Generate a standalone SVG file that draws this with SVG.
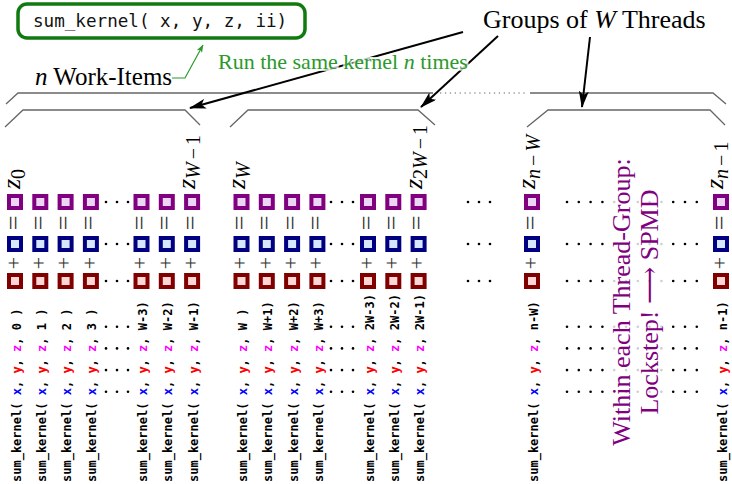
<svg xmlns="http://www.w3.org/2000/svg" xmlns:xlink="http://www.w3.org/1999/xlink" width="732" height="484" viewBox="0 0 732 484">
  <style>
    .sqP{fill:#ecd6f6;stroke:#800080;stroke-width:4}
    .sqB{fill:#d6e6ff;stroke:#000080;stroke-width:4}
    .sqR{fill:#ffd6d6;stroke:#800000;stroke-width:4}
    .op{font-family:"Liberation Serif","DejaVu Serif",serif;font-size:22px;fill:#333;text-anchor:middle}
    .eq{font-size:26px}
    .call{font-family:"DejaVu Sans Mono","Liberation Mono",monospace;font-size:12px;font-weight:bold;fill:#000}
    .vx{fill:#0000ff}.vy{fill:#ff0000}.vz{fill:#ff00ff}
    .zl{font-family:"Liberation Serif","DejaVu Serif",serif;font-size:26px;font-style:italic;fill:#000}
    .sub{font-size:20px}
    .up{font-style:normal}
    .it{font-style:italic}
    .dk{fill:#000}
    .lt{fill:#cfcfcf}
    .br{fill:none;stroke:#666;stroke-width:1.3}
    .brd{fill:none;stroke:#999;stroke-width:1.3;stroke-dasharray:1.3 3.6}
    .arr{fill:none;stroke:#000;stroke-width:2;marker-end:url(#ah)}
    .garr{fill:none;stroke:#2a9a2a;stroke-width:1.2;marker-end:url(#gah)}
    .serif{font-family:"Liberation Serif","DejaVu Serif",serif}
    .note{font-family:"Liberation Serif","DejaVu Serif",serif;font-size:26px;fill:#800080;text-anchor:middle}
  </style>
  <defs>
    <rect id="sqP" class="sqP" x="-6" y="-6" width="12" height="12"/>
    <rect id="sqB" class="sqB" x="-6" y="-6" width="12" height="12"/>
    <rect id="sqR" class="sqR" x="-6" y="-6" width="12" height="12"/>
    <g id="tri" class="dk">
      <circle cx="0" cy="0" r="1.3"/><circle cx="11" cy="0" r="1.3"/><circle cx="22" cy="0" r="1.3"/>
    </g>
    <g id="run">
      <g class="dk">
        <circle cx="567" cy="0" r="1.3"/><circle cx="578.8" cy="0" r="1.3"/><circle cx="590.6" cy="0" r="1.3"/><circle cx="602.4" cy="0" r="1.3"/>
        <circle cx="673.2" cy="0" r="1.3"/><circle cx="685" cy="0" r="1.3"/><circle cx="696.8" cy="0" r="1.3"/>
      </g>
      <g class="lt">
        <circle cx="614.2" cy="0" r="1.3"/><circle cx="626" cy="0" r="1.3"/><circle cx="637.8" cy="0" r="1.3"/><circle cx="649.6" cy="0" r="1.3"/><circle cx="661.4" cy="0" r="1.3"/>
      </g>
    </g>
    <!-- one work-item: three squares with the = and + between them -->
    <g id="cell">
      <use xlink:href="#sqP" href="#sqP" y="202"/>
      <text class="op eq" transform="translate(6.5,223) rotate(-90)">=</text>
      <use xlink:href="#sqB" href="#sqB" y="244"/>
      <text class="op" transform="translate(5.7,263) rotate(-90)">+</text>
      <use xlink:href="#sqR" href="#sqR" y="281"/>
    </g>
    <marker id="ah" viewBox="0 0 17 10" refX="16" refY="5" markerWidth="17" markerHeight="10" markerUnits="userSpaceOnUse" orient="auto">
      <path d="M0,0 L17,5 L0,10 L4,5 Z" fill="#000"/>
    </marker>
    <marker id="gah" viewBox="0 0 8 6" refX="7.5" refY="3" markerWidth="8" markerHeight="6" markerUnits="userSpaceOnUse" orient="auto">
      <path d="M0,0 L8,3 L0,6 L2,3 Z" fill="#2a9a2a"/>
    </marker>
  </defs>

  <rect width="732" height="484" fill="#fff"/>

  <!-- kernel signature -->
  <g id="kernel">
    <rect x="18" y="4" width="287" height="34" rx="9" fill="#fff" stroke="#107a10" stroke-width="3.5"/>
    <text x="33" y="27" font-family="DejaVu Sans Mono, Liberation Mono, monospace" font-size="17.6" fill="#111">sum_kernel( x, y, z, ii)</text>
  </g>

  <!-- brackets -->
  <g id="brackets">
    <path class="br" d="M6,104 L18,93 H433"/>
    <path class="brd" d="M440,93 H528"/>
    <path class="br" d="M530,93 H713 L726,104"/>
    <path class="br" d="M5,127 L23,110 H185 L200,125"/>
    <path class="br" d="M230,127 L248,110 H418 L435,125"/>
    <path class="br" d="M527,127 L548,110 H710 L725,125"/>
  </g>

  <!-- connectors -->
  <g id="connectors">
    <path class="garr" d="M172,78 H185 L203,45"/>
    <path class="arr" d="M463,32 L190,108"/>
    <path class="arr" d="M498,36 L421,107"/>
    <path class="arr" d="M590,37 L582,107"/>
  </g>

  <!-- captions -->
  <g id="captions">
    <text class="serif" x="35" y="85" font-size="25" fill="#000"><tspan class="it">n</tspan> Work-Items</text>
    <text class="serif" x="218" y="69" font-size="22" fill="#2a9a2a" stroke="#fff" stroke-opacity="0.75" stroke-width="4" paint-order="stroke">Run the same kernel <tspan class="it">n</tspan> times</text>
    <text class="serif" x="483" y="28" font-size="26" fill="#000">Groups of <tspan class="it">W</tspan> Threads</text>
  </g>

  <!-- ellipsis dots -->
  <g id="dots">
    <use xlink:href="#tri" href="#tri" x="106" y="202"/>
    <use xlink:href="#tri" href="#tri" x="106" y="244"/>
    <use xlink:href="#tri" href="#tri" x="106" y="281"/>
    <use xlink:href="#tri" href="#tri" x="106" y="326.8"/>
    <use xlink:href="#tri" href="#tri" x="106" y="348.4"/>
    <use xlink:href="#tri" href="#tri" x="106" y="370.1"/>
    <use xlink:href="#tri" href="#tri" x="106" y="391.7"/>
    <use xlink:href="#tri" href="#tri" x="331" y="202"/>
    <use xlink:href="#tri" href="#tri" x="331" y="244"/>
    <use xlink:href="#tri" href="#tri" x="331" y="281"/>
    <use xlink:href="#tri" href="#tri" x="331" y="326.8"/>
    <use xlink:href="#tri" href="#tri" x="331" y="348.4"/>
    <use xlink:href="#tri" href="#tri" x="331" y="370.1"/>
    <use xlink:href="#tri" href="#tri" x="331" y="391.7"/>
    <use xlink:href="#tri" href="#tri" x="468" y="202"/>
    <use xlink:href="#tri" href="#tri" x="468" y="244"/>
    <use xlink:href="#tri" href="#tri" x="468" y="281"/>
    <use xlink:href="#run" href="#run" y="202"/>
    <use xlink:href="#run" href="#run" y="244"/>
    <use xlink:href="#run" href="#run" y="281"/>
    <use xlink:href="#run" href="#run" y="326.8"/>
    <use xlink:href="#run" href="#run" y="348.4"/>
    <use xlink:href="#run" href="#run" y="370.1"/>
    <use xlink:href="#run" href="#run" y="391.7"/>
  </g>

  <!-- work-items, group 0 -->
  <g id="item-0" transform="translate(15,0)">
    <text class="zl" transform="translate(5,189) rotate(-90)">z<tspan class="sub up" dy="5">0</tspan></text>
    <use xlink:href="#cell" href="#cell"/>
    <text class="call" transform="translate(5.5,482) rotate(-90)">sum_kernel( <tspan class="vx">x</tspan>, <tspan class="vy">y</tspan>, <tspan class="vz">z</tspan>, 0 )</text>
  </g>
  <g id="item-1" transform="translate(40.3,0)">
    <use xlink:href="#cell" href="#cell"/>
    <text class="call" transform="translate(5.5,482) rotate(-90)">sum_kernel( <tspan class="vx">x</tspan>, <tspan class="vy">y</tspan>, <tspan class="vz">z</tspan>, 1 )</text>
  </g>
  <g id="item-2" transform="translate(65.6,0)">
    <use xlink:href="#cell" href="#cell"/>
    <text class="call" transform="translate(5.5,482) rotate(-90)">sum_kernel( <tspan class="vx">x</tspan>, <tspan class="vy">y</tspan>, <tspan class="vz">z</tspan>, 2 )</text>
  </g>
  <g id="item-3" transform="translate(90.9,0)">
    <use xlink:href="#cell" href="#cell"/>
    <text class="call" transform="translate(5.5,482) rotate(-90)">sum_kernel( <tspan class="vx">x</tspan>, <tspan class="vy">y</tspan>, <tspan class="vz">z</tspan>, 3 )</text>
  </g>
  <g id="item-W-3" transform="translate(141.5,0)">
    <use xlink:href="#cell" href="#cell"/>
    <text class="call" transform="translate(5.5,482) rotate(-90)">sum_kernel( <tspan class="vx">x</tspan>, <tspan class="vy">y</tspan>, <tspan class="vz">z</tspan>, W-3)</text>
  </g>
  <g id="item-W-2" transform="translate(166.8,0)">
    <use xlink:href="#cell" href="#cell"/>
    <text class="call" transform="translate(5.5,482) rotate(-90)">sum_kernel( <tspan class="vx">x</tspan>, <tspan class="vy">y</tspan>, <tspan class="vz">z</tspan>, W-2)</text>
  </g>
  <g id="item-W-1" transform="translate(192.1,0)">
    <text class="zl" transform="translate(3,189) rotate(-90)">z<tspan class="sub" dy="5">W</tspan><tspan class="sub up" dx="3">−</tspan><tspan class="sub up" dx="3">1</tspan></text>
    <use xlink:href="#cell" href="#cell"/>
    <text class="call" transform="translate(5.5,482) rotate(-90)">sum_kernel( <tspan class="vx">x</tspan>, <tspan class="vy">y</tspan>, <tspan class="vz">z</tspan>, W-1)</text>
  </g>

  <!-- work-items, group 1 -->
  <g id="item-W" transform="translate(241.5,0)">
    <text class="zl" transform="translate(3,189) rotate(-90)">z<tspan class="sub" dy="5">W</tspan></text>
    <use xlink:href="#cell" href="#cell"/>
    <text class="call" transform="translate(5.5,482) rotate(-90)">sum_kernel( <tspan class="vx">x</tspan>, <tspan class="vy">y</tspan>, <tspan class="vz">z</tspan>, W )</text>
  </g>
  <g id="item-W+1" transform="translate(266.8,0)">
    <use xlink:href="#cell" href="#cell"/>
    <text class="call" transform="translate(5.5,482) rotate(-90)">sum_kernel( <tspan class="vx">x</tspan>, <tspan class="vy">y</tspan>, <tspan class="vz">z</tspan>, W+1)</text>
  </g>
  <g id="item-W+2" transform="translate(292.1,0)">
    <use xlink:href="#cell" href="#cell"/>
    <text class="call" transform="translate(5.5,482) rotate(-90)">sum_kernel( <tspan class="vx">x</tspan>, <tspan class="vy">y</tspan>, <tspan class="vz">z</tspan>, W+2)</text>
  </g>
  <g id="item-W+3" transform="translate(317.4,0)">
    <use xlink:href="#cell" href="#cell"/>
    <text class="call" transform="translate(5.5,482) rotate(-90)">sum_kernel( <tspan class="vx">x</tspan>, <tspan class="vy">y</tspan>, <tspan class="vz">z</tspan>, W+3)</text>
  </g>
  <g id="item-2W-3" transform="translate(368,0)">
    <use xlink:href="#cell" href="#cell"/>
    <text class="call" transform="translate(5.5,482) rotate(-90)">sum_kernel( <tspan class="vx">x</tspan>, <tspan class="vy">y</tspan>, <tspan class="vz">z</tspan>, 2W-3)</text>
  </g>
  <g id="item-2W-2" transform="translate(393.3,0)">
    <use xlink:href="#cell" href="#cell"/>
    <text class="call" transform="translate(5.5,482) rotate(-90)">sum_kernel( <tspan class="vx">x</tspan>, <tspan class="vy">y</tspan>, <tspan class="vz">z</tspan>, 2W-2)</text>
  </g>
  <g id="item-2W-1" transform="translate(418.6,0)">
    <text class="zl" transform="translate(3,189) rotate(-90)">z<tspan class="sub up" dy="5">2</tspan><tspan class="sub">W</tspan><tspan class="sub up" dx="3">−</tspan><tspan class="sub up" dx="3">1</tspan></text>
    <use xlink:href="#cell" href="#cell"/>
    <text class="call" transform="translate(5.5,482) rotate(-90)">sum_kernel( <tspan class="vx">x</tspan>, <tspan class="vy">y</tspan>, <tspan class="vz">z</tspan>, 2W-1)</text>
  </g>

  <!-- work-items, last group -->
  <g id="item-n-W" transform="translate(532,0)">
    <text class="zl" transform="translate(3,189) rotate(-90)">z<tspan class="sub" dy="5">n</tspan><tspan class="sub up" dx="3">−</tspan><tspan class="sub" dx="3">W</tspan></text>
    <use xlink:href="#cell" href="#cell"/>
    <text class="call" transform="translate(5.5,482) rotate(-90)">sum_kernel( <tspan class="vx">x</tspan>, <tspan class="vy">y</tspan>, <tspan class="vz">z</tspan>, n-W)</text>
  </g>
  <g id="item-n-1" transform="translate(721,0)">
    <text class="zl" transform="translate(2,189) rotate(-90)">z<tspan class="sub" dy="4.5">n</tspan><tspan class="sub up" dx="3">−</tspan><tspan class="sub up" dx="3">1</tspan></text>
    <use xlink:href="#cell" href="#cell"/>
    <text class="call" transform="translate(5.5,482) rotate(-90)">sum_kernel( <tspan class="vx">x</tspan>, <tspan class="vy">y</tspan>, <tspan class="vz">z</tspan>, n-1)</text>
  </g>

  <!-- lockstep note -->
  <g id="note">
    <text class="note" transform="translate(630,302) rotate(-90)">Within each Thread-Group:</text>
    <text class="note" transform="translate(658,302) rotate(-90)">Lockstep! ⟶ SPMD</text>
  </g>
</svg>
